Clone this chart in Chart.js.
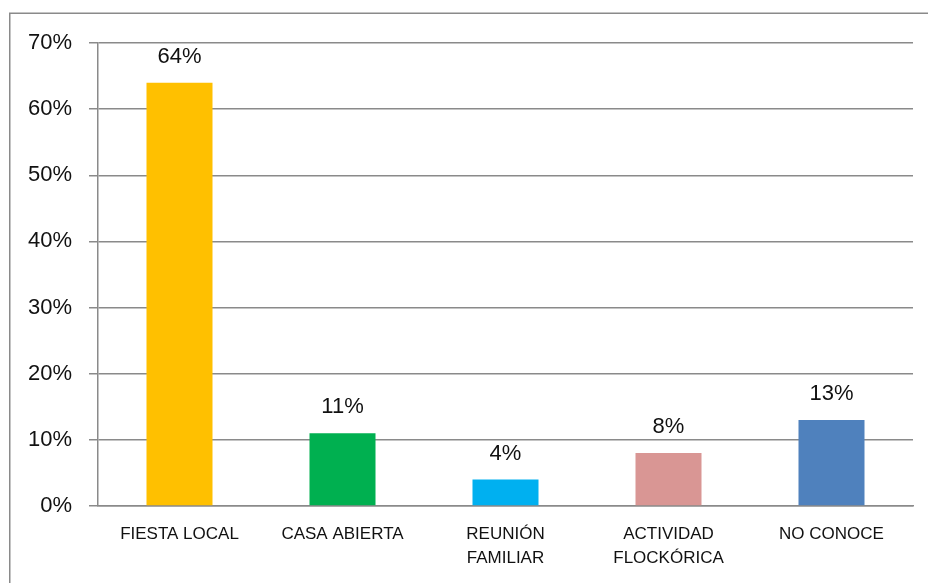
<!DOCTYPE html>
<html>
<head>
<meta charset="utf-8">
<script src="https://cdn.jsdelivr.net/npm/chart.js@4.4.0/dist/chart.umd.min.js"></script>
<style>
html,body{margin:0;padding:0;background:#fff;}
#wrap{width:928px;height:583px;position:relative;}
</style>
</head>
<body>
<div id="wrap"><canvas id="c" width="928" height="583"></canvas></div>
<script>
const categories = ["FIESTA LOCAL", "CASA ABIERTA", ["REUNIÓN", "FAMILIAR"], ["ACTIVIDAD", "FLOCKÓRICA"], "NO CONOCE"];
const values = [64, 11, 4, 8, 13];
const barColors = ["#FFC000", "#00B050", "#00B0F0", "#D99694", "#4F81BD"];
const yTicks = [0, 10, 20, 30, 40, 50, 60, 70];

const FONT = "'Liberation Sans', Arial, sans-serif";
const GRID = "#8a8a8a";

const frame = {
  id: 'frame',
  beforeDraw(chart) {
    const ctx = chart.ctx;
    ctx.save();
    ctx.fillStyle = '#fff';
    ctx.fillRect(0, 0, chart.width, chart.height);
    ctx.strokeStyle = GRID;
    ctx.lineWidth = 1.5;
    ctx.strokeRect(9.75, 13.25, chart.width + 20, chart.height + 20);
    ctx.restore();
  }
};

const labelsPlugin = {
  id: 'valueLabels',
  afterDatasetsDraw(chart) {
    const ctx = chart.ctx;
    const meta = chart.getDatasetMeta(0);
    ctx.save();
    ctx.font = "22px " + FONT;
    ctx.fillStyle = '#111';
    ctx.textAlign = 'center';
    ctx.textBaseline = 'alphabetic';
    meta.data.forEach((bar, i) => {
      ctx.fillText(values[i] + '%', bar.x, bar.y - 20);
    });
    ctx.restore();
  }
};

new Chart(document.getElementById('c'), {
  type: 'bar',
  data: {
    labels: categories,
    datasets: [{
      data: values,
      backgroundColor: barColors,
      borderWidth: 0,
      categoryPercentage: 1,
      barPercentage: 0.405
    }]
  },
  options: {
    responsive: false,
    animation: false,
    events: [],
    layout: { padding: { left: 0, right: 15, top: 43, bottom: 0 } },
    plugins: { legend: { display: false }, tooltip: { enabled: false } },
    scales: {
      x: {
        grid: { display: false, drawTicks: false, tickLength: 0 },
        border: { display: true, color: GRID, width: 1.5 },
        ticks: { color: '#111', font: { family: FONT, size: 17, lineHeight: 1.41 }, padding: 16, maxRotation: 0, autoSkip: false },
        afterFit(s) { s.height = 77; }
      },
      y: {
        min: 0, max: 70,
        afterBuildTicks(s) { s.ticks = yTicks.map(v => ({ value: v })); },
        grid: { color: GRID, lineWidth: 1.5, drawTicks: true, tickLength: 9, tickColor: GRID },
        border: { display: true, color: GRID, width: 1.5 },
        ticks: { color: '#111', font: { family: FONT, size: 22 }, padding: 17, callback: v => v + '%' },
        afterFit(s) { s.width = 98; }
      }
    }
  },
  plugins: [frame, labelsPlugin]
});
</script>
</body>
</html>
